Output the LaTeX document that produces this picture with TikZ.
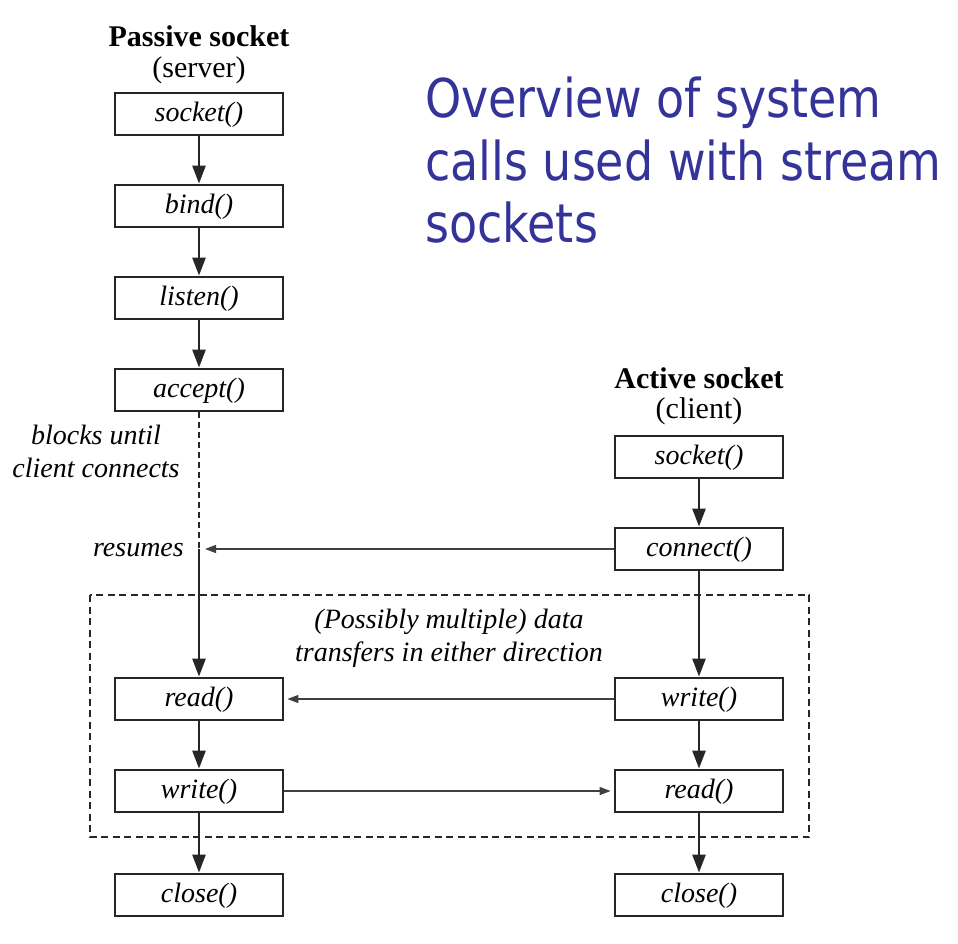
\documentclass[tikz,border=0pt]{standalone}
\usepackage{fontspec}
\setmainfont{Liberation Serif}
\newfontfamily\titlefont[FakeStretch=0.86]{DejaVu Sans}
\usetikzlibrary{arrows.meta}
\definecolor{titleblue}{RGB}{51,51,153}
\begin{document}
\begin{tikzpicture}[x=1pt,y=-1pt,
  callbox/.style={draw=black!85,line width=2.8pt,minimum width=168pt,minimum height=42pt,inner sep=0pt,
    text height=19pt,text depth=4pt,font=\fontsize{28}{28}\selectfont\itshape},
  head/.style={font=\fontsize{30}{30}\selectfont\bfseries,inner sep=0pt},
  sub/.style={font=\fontsize{30}{30}\selectfont,inner sep=0pt},
  lbl/.style={font=\fontsize{28}{33}\selectfont\itshape,inner sep=0pt,align=center},
  ttl/.style={anchor=base west,inner sep=0pt,text=titleblue,font=\titlefont\fontsize{53.5}{62.5}\selectfont},
  down/.style={draw=black!85,line width=2.6pt,-{Triangle[length=18pt,width=13pt]}},
  side/.style={draw=black!75,line width=1.4pt,-{Triangle[length=11pt,width=8pt]}}
]
\useasboundingbox (0,0) rectangle (958,943);
% title
\node[ttl] (title1) at (425,117) {Overview of system};
\node[ttl] (title2) at (425,180) {calls used with stream};
\node[ttl] (title3) at (425,242) {sockets};
% headings
\node[head] (ph) at (199,36) {Passive socket};
\node[sub] (ps) at (199,70) {(server)};
\node[head] (ah) at (699,378) {Active socket};
\node[sub] (as) at (699,411) {(client)};
% left column
\node[callbox] (lsock) at (199,114) {socket()};
\node[callbox] (lbind) at (199,206) {bind()};
\node[callbox] (llist) at (199,298) {listen()};
\node[callbox] (lacc) at (199,390) {accept()};
\node[callbox] (lread) at (199,699) {read()};
\node[callbox] (lwrite) at (199,791) {write()};
\node[callbox] (lclose) at (199,895) {close()};
% right column
\node[callbox] (rsock) at (699,457) {socket()};
\node[callbox] (rconn) at (699,549) {connect()};
\node[callbox] (rwrite) at (699,699) {write()};
\node[callbox] (rread) at (699,791) {read()};
\node[callbox] (rclose) at (699,895) {close()};
% labels
\node[lbl] (blocks) at (96,451) {blocks until\\client connects};
\node[lbl,anchor=east] (resumes) at (184,550) {resumes};
\node[lbl] (multi) at (449,638) {(Possibly multiple) data\\transfers in either direction};
% dashed box
\draw[black!85,line width=2.4pt,dash pattern=on 7pt off 4.5pt] (90,595) rectangle (809,837);
% connectors
\coordinate (res) at (199,549);
\coordinate (resend) at (205,549);
\draw[down] (lsock) -- (lbind);
\draw[down] (lbind) -- (llist);
\draw[down] (llist) -- (lacc);
\draw[black!85,line width=2.6pt,dash pattern=on 6pt off 4pt] (lacc.south) -- (res);
\draw[down] (res) -- (lread);
\draw[down] (lread) -- (lwrite);
\draw[down] (lwrite) -- (lclose);
\draw[down] (rsock) -- (rconn);
\draw[down] (rconn) -- (rwrite);
\draw[down] (rwrite) -- (rread);
\draw[down] (rread) -- (rclose);
\draw[side] (rconn) -- (resend);
\draw[side] (rwrite) -- ([xshift=3pt]lread.east);
\draw[side] (lwrite) -- ([xshift=-3pt]rread.west);
\end{tikzpicture}
\end{document}
